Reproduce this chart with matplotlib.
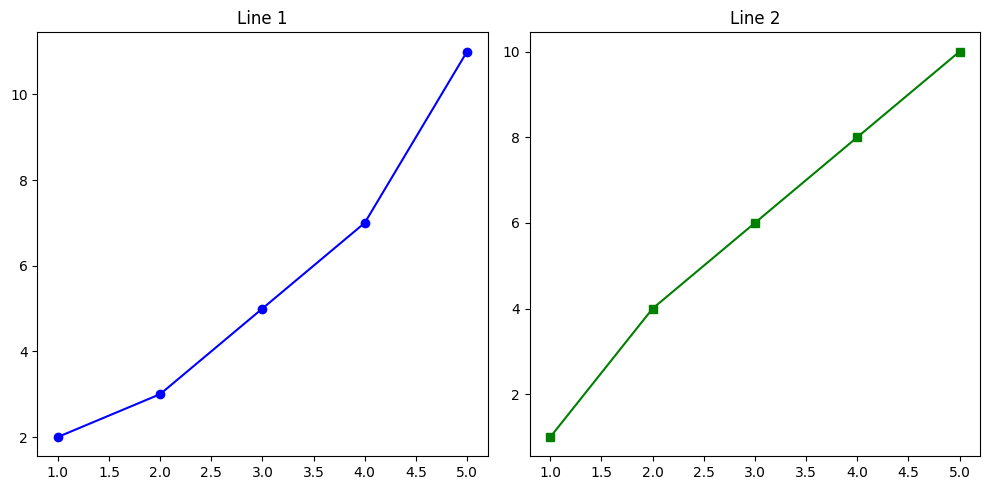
import matplotlib
matplotlib.use("Agg")
import matplotlib.pyplot as plt

x = [1, 2, 3, 4, 5]
y1 = [2, 3, 5, 7, 11]
y2 = [1, 4, 6, 8, 10]

fig, (ax1, ax2) = plt.subplots(1, 2, figsize=(10, 5), dpi=100)
ax1.plot(x, y1, color='blue', marker='o')
ax1.set_title('Line 1')
ax2.plot(x, y2, color='green', marker='s')
ax2.set_title('Line 2')
fig.tight_layout()
fig.savefig('out.png', dpi=100, bbox_inches='tight')
